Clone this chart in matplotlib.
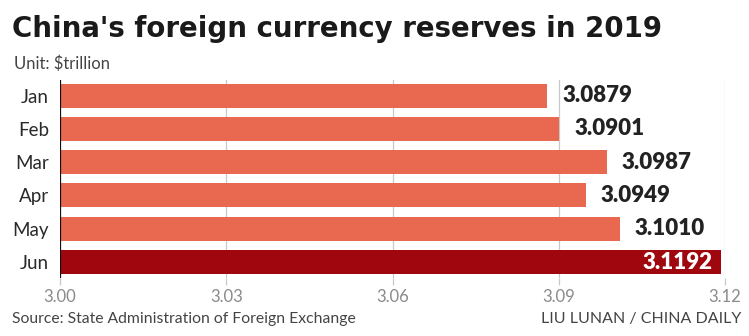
import matplotlib
matplotlib.use("Agg")
import matplotlib.pyplot as plt

months = ["Jan", "Feb", "Mar", "Apr", "May", "Jun"]
reserves = [3.0879, 3.0901, 3.0987, 3.0949, 3.1010, 3.1192]
value_labels = ["3.0879", "3.0901", "3.0987", "3.0949", "3.1010", "3.1192"]
x_ticks = [3.00, 3.03, 3.06, 3.09, 3.12]
x_tick_labels = ["3.00", "3.03", "3.06", "3.09", "3.12"]

W, H = 749, 336
fig = plt.figure(figsize=(W / 100, H / 100), dpi=100)
fig.patch.set_facecolor("white")

left, right, top, bottom = 60, 725, 80, 278
ax = fig.add_axes([left / W, 1 - bottom / H, (right - left) / W, (bottom - top) / H])

base = 3.00
colors = ["#E8694F"] * 5 + ["#A0060E"]
ypos = list(range(len(months)))
ax.barh(ypos, [v - base for v in reserves], left=base, height=0.72,
        color=colors, zorder=3)

ax.set_xlim(3.00, 3.12)
ax.set_ylim(5.48, -0.47)

# vertical gridlines
for t in x_ticks[1:]:
    ax.axvline(t, color="#c8c8c8", lw=0.9, zorder=1)
ax.axvline(3.00, color="#111111", lw=1.6, zorder=4)

for s in ax.spines.values():
    s.set_visible(False)

ax.set_xticks(x_ticks)
ax.set_xticklabels(x_tick_labels, fontfamily="Lato", fontsize=12,
                   color="#8a8a8a")
ax.tick_params(axis="x", length=5, width=0.9, color="#c8c8c8", pad=3)
ax.set_yticks(ypos)
ax.set_yticklabels(months, fontfamily="Lato", fontsize=13.5, color="#2a2a2a")
ax.tick_params(axis="y", length=0, pad=8)

pt = (3.12 - 3.00) / (right - left)  # data units per pixel
for i, (v, lab) in enumerate(zip(reserves, value_labels)):
    if i == len(reserves) - 1:
        ax.text(v - 8 * pt, i, lab, ha="right", va="center", color="white",
                fontfamily="Lato", fontweight="heavy", fontsize=16, zorder=5)
    else:
        ax.text(v + 15 * pt, i, lab, ha="left", va="center", color="#222222",
                fontfamily="Lato", fontweight="heavy", fontsize=16, zorder=5)

fig.text(12 / W, 1 - 29 / H, "China's foreign currency reserves in 2019",
         fontfamily="DejaVu Sans", fontweight="bold", fontsize=19.9,
         color="#1a1a1a", va="center", ha="left")
fig.text(14 / W, 1 - 64 / H, "Unit: $trillion", fontfamily="Lato",
         fontsize=12, color="#444444", va="center")
fig.text(12 / W, 1 - 319 / H, "Source: State Administration of Foreign Exchange",
         fontfamily="Lato", fontsize=11.3, color="#444444", va="center")
fig.text(741 / W, 1 - 319 / H, "LIU LUNAN / CHINA DAILY", fontfamily="Lato",
         fontsize=11.5, color="#444444", va="center", ha="right")

fig.savefig("out.png", dpi=100, facecolor="white")
